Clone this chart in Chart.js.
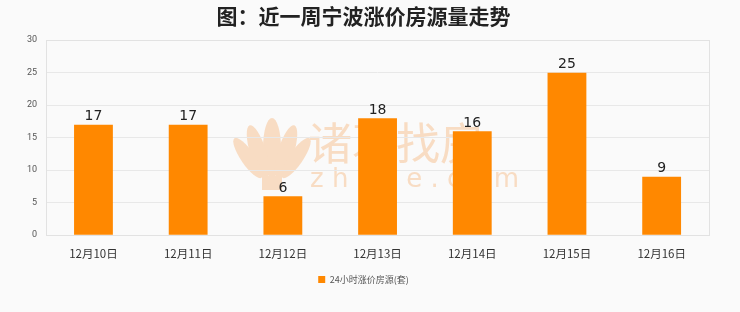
<!DOCTYPE html>
<html>
<head>
<meta charset="utf-8">
<script src="https://cdn.jsdelivr.net/npm/chart.js@4/dist/chart.umd.min.js"></script>
<style>
  html, body { margin: 0; padding: 0; background: #fafafa; }
  #wrap { width: 740px; height: 312px; }
</style>
</head>
<body>
<div id="wrap"><canvas id="tuChart"></canvas></div>
<script>
// 数据
const riqi = ['12月10日', '12月11日', '12月12日', '12月13日', '12月14日', '12月15日', '12月16日'];
const zhangjia = [17, 17, 6, 18, 16, 25, 9];
const yTicks = [0, 5, 10, 15, 20, 25, 30];

// 水印 (在网格线下面)
const shuiyinPlugin = {
  id: 'shuiyin',
  beforeDraw(chart) {
    const ctx = chart.ctx;
    ctx.save();
    ctx.fillStyle = '#f8dcc3';
    // 莲花图标
    const petals = [[272, 148, 9, 30, 0], [258, 152, 8, 28, -0.3], [286, 152, 8, 28, 0.3],
                    [248, 158, 7, 24, -0.6], [296, 158, 7, 24, 0.6]];
    petals.forEach(p => {
      ctx.beginPath();
      ctx.ellipse(p[0], p[1], p[2], p[3], p[4], 0, Math.PI * 2);
      ctx.fill();
    });
    ctx.fillRect(262, 176, 20, 14);
    ctx.textAlign = 'left';
    ctx.textBaseline = 'middle';
    ctx.font = '44px "Noto Sans CJK SC", sans-serif';
    ctx.fillText('诸葛找房', 308, 143);
    ctx.font = '26px "DejaVu Sans", sans-serif';
    ctx.fillText('z h u g e . c o m', 310, 180);
    ctx.restore();
  }
};

// 图表外框
const kuangPlugin = {
  id: 'kuang',
  beforeDatasetsDraw(chart) {
    const a = chart.chartArea, ctx = chart.ctx;
    ctx.save();
    ctx.strokeStyle = '#e2e2e2';
    ctx.lineWidth = 1;
    ctx.strokeRect(Math.round(a.left) + 0.5, Math.round(a.top) + 0.5, Math.round(a.right - a.left), Math.round(a.bottom - a.top));
    ctx.restore();
  }
};

// 柱顶数值
const shuzhiPlugin = {
  id: 'shuzhi',
  afterDatasetsDraw(chart) {
    const ctx = chart.ctx;
    const meta = chart.getDatasetMeta(0);
    ctx.save();
    ctx.font = '14px "DejaVu Sans", sans-serif';
    ctx.fillStyle = '#222';
    ctx.textAlign = 'center';
    ctx.textBaseline = 'bottom';
    meta.data.forEach((bar, i) => {
      ctx.fillText(zhangjia[i], bar.x, bar.y - 1);
    });
    ctx.restore();
  }
};

document.addEventListener('DOMContentLoaded', function () {
  const ctx = document.getElementById('tuChart');
  new Chart(ctx, {
    type: 'bar',
    data: {
      labels: riqi,
      datasets: [{
        label: '24小时涨价房源(套)',
        data: zhangjia,
        backgroundColor: '#ff8800',
        borderWidth: 0,
        categoryPercentage: 1,
        barPercentage: 0.41
      }]
    },
    options: {
      responsive: true,
      maintainAspectRatio: false,
      animation: false,
      layout: { padding: { left: 18, right: 31, top: 0, bottom: 18 } },
      plugins: {
        title: {
          display: true,
          text: '图：近一周宁波涨价房源量走势',
          color: '#222',
          font: { size: 21, weight: 'bold', family: '"Noto Sans CJK SC", sans-serif' },
          padding: { top: 3, bottom: 12 }
        },
        legend: {
          position: 'bottom',
          labels: {
            boxWidth: 7,
            boxHeight: 7,
            color: '#555',
            font: { size: 9, family: '"Noto Sans CJK SC", sans-serif' },
            padding: 10
          }
        },
        tooltip: { enabled: false }
      },
      scales: {
        x: {
          grid: { display: false },
          border: { display: false },
          ticks: {
            color: '#333',
            font: { size: 11.5, family: '"Noto Sans CJK SC", sans-serif' },
            padding: 4
          }
        },
        y: {
          min: 0,
          max: 30,
          afterBuildTicks(axis) { axis.ticks = yTicks.map(v => ({ value: v })); },
          grid: { color: '#e8e8e8', drawTicks: false },
          border: { display: false },
          ticks: {
            color: '#555',
            font: { size: 9, family: 'Roboto, sans-serif' },
            padding: 9
          }
        }
      }
    },
    plugins: [shuiyinPlugin, kuangPlugin, shuzhiPlugin]
  });
});
</script>
</body>
</html>
